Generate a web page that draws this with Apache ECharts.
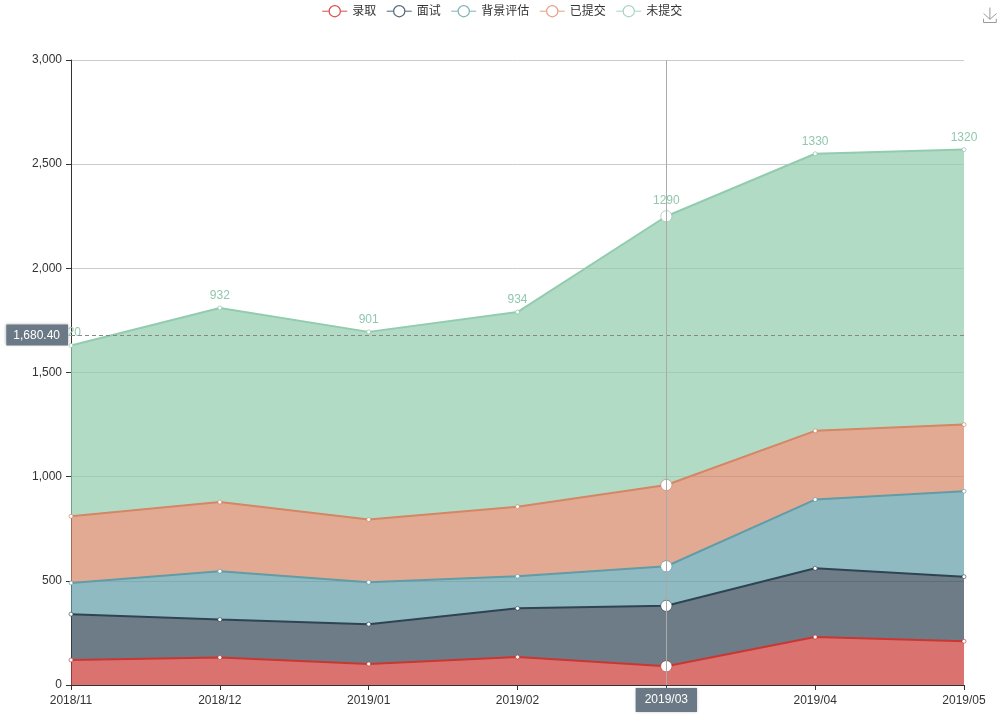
<!DOCTYPE html>
<html><head><meta charset="utf-8">
<style>html,body{margin:0;padding:0;background:#fff}#c{width:1004px;height:727px}</style>
<script src="https://cdn.jsdelivr.net/npm/echarts@6/dist/echarts.min.js"></script>
</head><body><div id="c"></div>
<script>
const categories = ['2018/11','2018/12','2019/01','2019/02','2019/03','2019/04','2019/05'];
const admitted = [120,132,101,134,90,230,210];
const interview = [220,182,191,234,290,330,310];
const background = [150,232,201,154,190,330,410];
const submitted = [320,332,301,334,390,330,320];
const notSubmitted = [820,932,901,934,1290,1330,1320];
const names = ['录取','面试','背景评估','已提交','未提交'];
const colors = ['#c23531','#2f4554','#61a0a8','#d48265','#91c7ae'];
const areaColors = ['#b8322e','#2b3e4c','#588f98','#c27a5c','#85ba9f'];
const legendColors = ['#d4504c','#52667a','#7db3bb','#e5a088','#a8d5c2'];
const values = [admitted,interview,background,submitted,notSubmitted];
const font = "'Liberation Sans','Noto Sans CJK SC',sans-serif";
const chart = echarts.init(document.getElementById('c'));
const pointerLabel = {backgroundColor:'#6a7985',color:'#fff',fontFamily:font,fontSize:12,shadowBlur:3,shadowColor:'#aaa',borderRadius:0,borderWidth:0};
chart.setOption({
  animation:false,
  color:colors,
  textStyle:{fontFamily:font},
  legend:{data:names.map((n,i)=>({name:n,itemStyle:{color:'#fff',borderColor:legendColors[i],borderWidth:1.2},lineStyle:{color:legendColors[i],width:1}})),
    top:0,left:'center',itemWidth:25,itemHeight:14,itemGap:10,
    textStyle:{color:'#333',fontSize:12,fontFamily:font}},
  toolbox:{right:-10,top:-10,itemSize:15,feature:{saveAsImage:{title:''}},iconStyle:{borderColor:'#999'}},
  tooltip:{trigger:'axis',showContent:false,axisPointer:{type:'cross'}},
  grid:{left:71,right:40,top:60,bottom:42,containLabel:false},
  xAxis:{type:'category',boundaryGap:false,data:categories,
    axisLine:{show:true,lineStyle:{color:'#333',width:1}},axisTick:{show:true,lineStyle:{color:'#333'}},
    axisLabel:{color:'#333',fontSize:12,fontFamily:font,margin:10,showMinLabel:true,showMaxLabel:true,hideOverlap:false,interval:0},
    splitLine:{show:false},
    axisPointer:{type:'line',lineStyle:{color:'#aaa',width:1,type:'solid'},label:{...pointerLabel,padding:[6,9,6,9]}}},
  yAxis:{type:'value',min:0,max:3000,interval:500,
    axisLine:{show:true,lineStyle:{color:'#333',width:1}},axisTick:{show:true,lineStyle:{color:'#333'}},
    axisLabel:{color:'#333',fontSize:12,fontFamily:font,margin:9,padding:[3,0,0,0]},
    splitLine:{show:true,lineStyle:{color:'#ccc',width:1}},
    axisPointer:{type:'line',lineStyle:{color:'#888',width:1,type:[4,3]},label:{...pointerLabel,padding:[5,8,4,7]}}},
  series:names.map((n,i)=>({
    name:n,type:'line',stack:'总量',data:values[i],
    symbol:'circle',symbolSize:4,showSymbol:true,
    lineStyle:{width:2,color:areaColors[i]},itemStyle:{color:'#fff',borderColor:areaColors[i],borderWidth:0.6},
    areaStyle:{color:areaColors[i],opacity:0.7},
    emphasis:{scale:2.8,itemStyle:{color:'#fff',borderColor:areaColors[i],borderWidth:0.6}},
    label:i===4?{show:true,position:'top',distance:4,color:colors[i],fontSize:12,fontFamily:font}:{show:false}
  }))
});
chart.dispatchAction({type:'showTip',x:666,y:334.916});
</script></body></html>
